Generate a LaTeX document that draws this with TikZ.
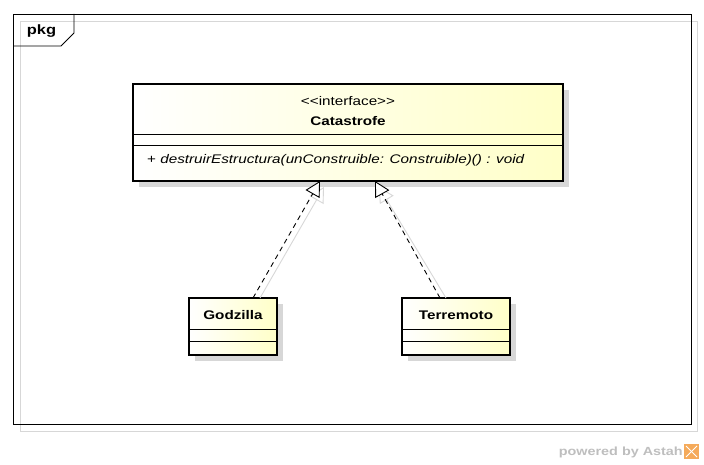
\documentclass[tikz,border=0pt]{standalone}
\usepackage{fontspec}
\setmainfont{Liberation Sans}[FakeStretch=1.22]
\usetikzlibrary{arrows.meta,shadings}
\definecolor{umlyellow}{RGB}{255,255,200}
\definecolor{shadowgray}{RGB}{215,215,215}
\definecolor{astahgray}{RGB}{190,190,190}
\definecolor{astahorange}{RGB}{245,170,90}
\tikzset{
  classbox/.style={draw=black, line width=2.6pt, left color=white, right color=umlyellow},
  sep/.style={draw=black, line width=0.8pt},
  realize/.style={draw=black, line width=0.9pt, dash pattern=on 5pt off 4pt,
    -{Triangle[open, length=15pt, width=16pt, fill=white]}},
  realizeshadow/.style={draw=shadowgray, line width=0.9pt,
    -{Triangle[open, length=15pt, width=16pt, fill=white]}},
  lbl/.style={inner sep=0pt, font=\fontsize{12.5}{14}\selectfont},
  blbl/.style={inner sep=0pt, font=\fontsize{12.5}{14}\selectfont\bfseries}
}
\begin{document}
\begin{tikzpicture}[x=1pt,y=-1pt]
\useasboundingbox (0,0) rectangle (704,465);
% package frame
\draw[shadowgray, line width=0.8pt] (20,21) rectangle (697,431);
\draw[black, line width=0.8pt] (13,14) rectangle (691,424);
\draw[black, line width=0.8pt] (13,46) -- (61,46) -- (74,33) -- (74,14);
\node[inner sep=0pt, font=\fontsize{13.5}{15}\selectfont\bfseries] (pkg) at (41.5,31) {pkg};

% shadows of classes
\fill[shadowgray] (139,90) rectangle (569,187);
\fill[shadowgray] (195,304) rectangle (283,361);
\fill[shadowgray] (408,304) rectangle (516,361);

% interface Catastrofe
\path[classbox] (133,84) rectangle (563,181);
\node[lbl] (stereo) at (348,101) {<{}<interface>{}>};
\node[blbl] (cat) at (348,121) {Catastrofe};
\draw[sep] (133,134) -- (563,134);
\draw[sep] (133,145) -- (563,145);
\node[lbl, anchor=west] (meth) at (147,160) {+ \textit{destruirEstructura(unConstruible: Construible)() : void}};
\coordinate (tipG) at (320,181);
\coordinate (tipT) at (375,181);

% Godzilla
\path[classbox] (189,298) rectangle (277,355);
\node[blbl] (god) at (233,315) {Godzilla};
\draw[sep] (189,329) -- (277,329);
\draw[sep] (189,341) -- (277,341);
\coordinate (srcG) at (253,298);
\coordinate (srcGs) at (260,298);

% Terremoto
\path[classbox] (402,298) rectangle (510,355);
\node[blbl] (ter) at (456,315) {Terremoto};
\draw[sep] (402,329) -- (510,329);
\draw[sep] (402,341) -- (510,341);
\coordinate (srcT) at (440,298);
\coordinate (srcTs) at (446,298);

% realization shadows
\coordinate (tipGs) at (324,187);
\coordinate (tipTs) at (379,187);
\draw[realizeshadow] (srcGs) -- (tipGs);
\draw[realizeshadow] (srcTs) -- (tipTs);
% realizations
\draw[realize] (srcG) -- (tipG);
\draw[realize] (srcT) -- (tipT);

% watermark
\node[inner sep=0pt, anchor=east, text=astahgray, font=\fontsize{11.8}{14}\selectfont\bfseries] (wm) at (683,452) {powered by Astah};
\fill[astahorange] (684,444) rectangle (699,459);
\draw[white, line width=1pt] (686,446) -- (697,457);
\draw[white, line width=1pt] (697,446) -- (686,457);
\end{tikzpicture}
\end{document}
